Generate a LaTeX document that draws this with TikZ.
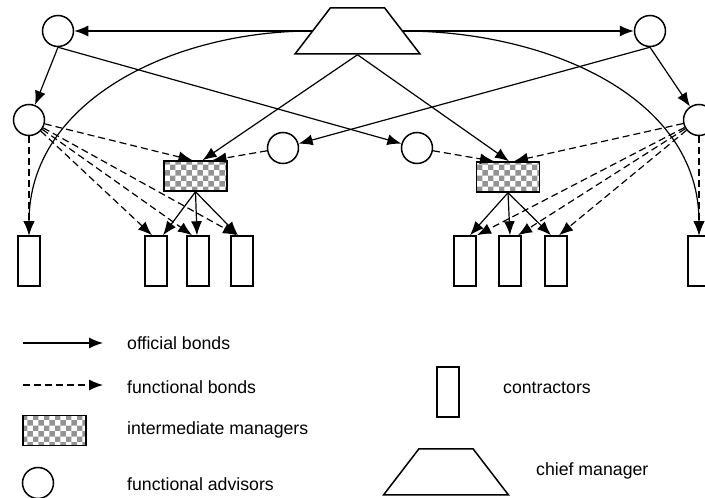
\documentclass[tikz,border=0pt]{standalone}
\usepackage{fontspec}
\setmainfont{Liberation Sans}
\usepackage{tikz}
\usetikzlibrary{positioning, arrows.meta, shapes.geometric, patterns}
\tikzset{
	>={Latex[length=14pt,width=11pt]}, % filled arrow heads
	official/.style={->, line width=1.2pt}, % solid bonds
	functional/.style={->, line width=1.2pt, dash pattern=on 7pt off 4pt}, % dashed bonds
	advisor/.style={circle, draw, line width=1.5pt, minimum size=31pt, inner sep=0pt}, % functional advisors
	contractor/.style={rectangle, draw, line width=1.5pt, minimum width=22pt, minimum height=50pt, inner sep=0pt}, % contractors
	manager/.style={rectangle, draw, line width=1.5pt, pattern=checkerboard, pattern color=gray!85, minimum width=63pt, minimum height=30pt, inner sep=0pt}, % intermediate managers
	chief/.style={trapezium, draw, line width=1.5pt, trapezium angle=57, trapezium stretches=true, minimum width=125pt, minimum height=46pt, inner sep=1pt}, % chief manager
	caption/.style={anchor=west, inner sep=0pt, font=\fontsize{17.7}{20}\selectfont}, % legend texts
}
\begin{document}
\begin{tikzpicture}[x=1pt, y=1pt, node distance=43pt, on grid]
		\useasboundingbox (0,0) rectangle (705,498);
		% Define the managers and advisors
		\node[chief] (cm) at (357.5,467) {};
		\node[advisor] (fa1) at (58,467) {};
		\node[advisor] (fa2) at (650,467) {};
		\node[advisor] (fa3) at (29,378) {};
		\node[advisor] (fa4) at (699,378) {};
		\node[advisor] (fa5) at (283,350) {};
		\node[advisor] (fa6) at (417,350) {};
		\node[manager] (im1) at (195.5,322) {};
		\node[manager] (im2) at (508,321) {};
		
		% Define the contractors
		\node[contractor] (c1) at (29,237) {};
		\node[contractor] (c2) at (156,237) {};
		\node[contractor, right=42pt of c2] (c3) {};
		\node[contractor, right=44pt of c3] (c4) {};
		\node[contractor] (c5) at (465,237) {};
		\node[contractor, right=45pt of c5] (c6) {};
		\node[contractor, right=46pt of c6] (c7) {};
		\node[contractor] (c8) at (699,237) {};
		
		% Official bonds
		\path
		(cm.west) edge[official] (fa1)
		(cm.east) edge[official] (fa2)
		(fa1.south) edge[official] (fa3)
		(fa2.south) edge[official] (fa4)
		(fa1.south) edge[official] (fa6)
		(fa2.south) edge[official] (fa5)
		(cm.west) edge[official, out=180, in=90] (c1.north)
		(cm.east) edge[official, out=0, in=90] (c8.north)
		(cm.south) edge[official] ([xshift=7pt]im1.north)
		(cm.south) edge[official] ([xshift=1pt]im2.north)
		(im1.south) edge[official] ([xshift=7pt]c2.north)
		(im1.south) edge[official] ([xshift=-1pt]c3.north)
		(im1.south) edge[official] ([xshift=-4pt]c4.north)
		(im2.south) edge[official] ([xshift=5pt]c5.north)
		(im2.south) edge[official] (c6.north)
		(im2.south) edge[official] ([xshift=-5pt]c7.north);
		
		% Functional bonds
		\path
		(fa3.south) edge[functional] (c1.north)
		(fa3) edge[functional] ([xshift=-4pt]c2.north)
		(fa3) edge[functional] ([xshift=-6pt]c3.north)
		(fa3) edge[functional] ([xshift=-5pt]c4.north)
		(fa3) edge[functional] ([xshift=-3pt]im1.north)
		(fa5) edge[functional] ([xshift=17pt]im1.north)
		(fa4.south) edge[functional] (c8.north)
		(fa4) edge[functional] ([xshift=12pt]c5.north)
		(fa4) edge[functional] ([xshift=8pt]c6.north)
		(fa4) edge[functional] ([xshift=3pt]c7.north)
		(fa4) edge[functional] ([xshift=6pt]im2.north)
		(fa6) edge[functional] ([xshift=-14pt]im2.north);
		
		% Legend
		\coordinate (ob1) at (23,155);
		\coordinate (ob2) at (103,155);
		\coordinate (fb1) at (23,113);
		\coordinate (fb2) at (103,113);
		\draw[official] (ob1) -- (ob2);
		\draw[functional] (fb1) -- (fb2);
		\node[manager] (lim) at (54.5,67.5) {};
		\node[advisor] (lfa) at (38,15) {};
		\node[contractor] (lc) at (448,106) {};
		\node[chief] (lcm) at (446,26) {};
		\node[caption] (tob) at (127,155) {official bonds};
		\node[caption] (tfb) at (127,111) {functional bonds};
		\node[caption] (tim) at (127,68) {intermediate managers};
		\node[caption] (tfa) at (127,14) {functional advisors};
		\node[caption] (tc) at (503,110) {contractors};
		\node[caption] (tcm) at (536,27) {chief manager};
	\end{tikzpicture}
\end{document}
